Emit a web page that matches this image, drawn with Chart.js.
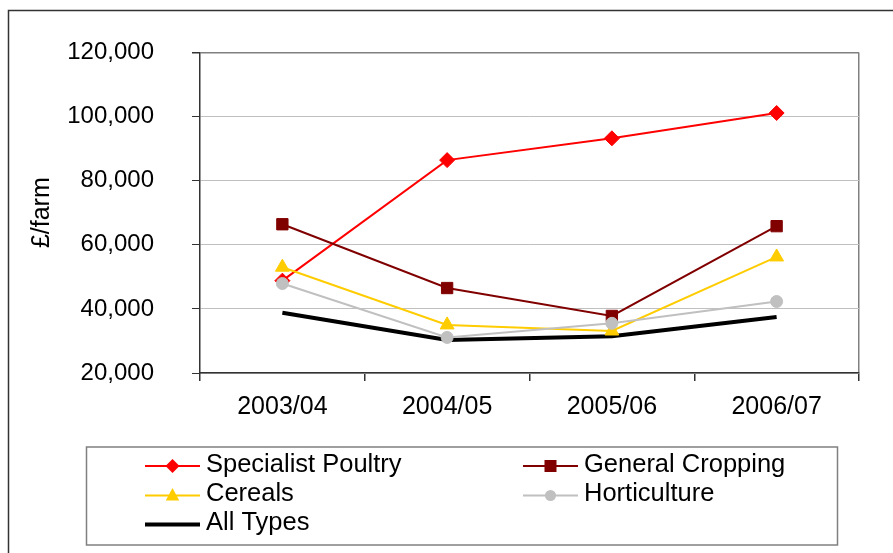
<!DOCTYPE html>
<html>
<head>
<meta charset="utf-8">
<script src="https://cdn.jsdelivr.net/npm/chart.js@4.4.1/dist/chart.umd.min.js"></script>
<style>
  html, body { margin: 0; padding: 0; background: #fff; }
  canvas { display: block; }
</style>
</head>
<body>
<canvas id="farmChart" width="893" height="553"></canvas>
<script>
const years = ["2003/04", "2004/05", "2005/06", "2006/07"];
const poultry = [48800, 86400, 93200, 101100];
const cropping = [66400, 46500, 37800, 65800];
const cereals = [53000, 35000, 33100, 56200];
const horticulture = [47900, 31100, 35500, 42300];
const allTypes = [38800, 30300, 31500, 37500];

const FONT = "'Liberation Sans', Arial, sans-serif";

// legend layout (two columns, drawn as in the original sheet)
const legendItems = [
  { label: "Specialist Poultry", col: 0, row: 0 },
  { label: "General Cropping", col: 1, row: 0 },
  { label: "Cereals", col: 0, row: 1 },
  { label: "Horticulture", col: 1, row: 1 },
  { label: "All Types", col: 0, row: 2 },
];

function drawMarker(ctx, style, x, y, r, color) {
  ctx.fillStyle = color;
  ctx.beginPath();
  if (style === "rectRot") {
    ctx.moveTo(x, y - r);
    ctx.lineTo(x + r, y);
    ctx.lineTo(x, y + r);
    ctx.lineTo(x - r, y);
  } else if (style === "rect") {
    ctx.rect(x - r, y - r, r * 2, r * 2);
  } else if (style === "triangle") {
    ctx.moveTo(x, y - r);
    ctx.lineTo(x + r * 0.9, y + r * 0.65);
    ctx.lineTo(x - r * 0.9, y + r * 0.65);
  } else if (style === "circle") {
    ctx.arc(x, y, r, 0, Math.PI * 2);
  } else {
    return;
  }
  ctx.closePath();
  ctx.fill();
}

const framePlugin = {
  id: "frame",
  beforeDraw(chart) {
    const ctx = chart.ctx;
    ctx.save();
    ctx.fillStyle = "#fff";
    ctx.fillRect(0, 0, chart.width, chart.height);
    ctx.strokeStyle = "#333";
    ctx.lineWidth = 1.5;
    ctx.strokeRect(8.5, 10.5, chart.width + 20, chart.height + 20);
    ctx.restore();
  },
  afterDraw(chart) {
    const ctx = chart.ctx;
    ctx.save();
    // legend box
    ctx.strokeStyle = "#808080";
    ctx.lineWidth = 1.5;
    ctx.strokeRect(86.5, 447, 751, 98);

    const colX = [145, 523];
    const rowY = [466, 495.5, 524.5];
    const markerSize = { rectRot: 7, rect: 6, triangle: 7.5, circle: 5.5 };
    legendItems.forEach((item) => {
      const ds = chart.data.datasets.find((d) => d.label === item.label);
      const x0 = colX[item.col];
      const y = rowY[item.row];
      ctx.strokeStyle = ds.borderColor;
      ctx.lineWidth = ds.borderWidth;
      ctx.beginPath();
      ctx.moveTo(x0, y);
      ctx.lineTo(x0 + 55, y);
      ctx.stroke();
      if (ds.pointRadius > 0) {
        drawMarker(ctx, ds.pointStyle, x0 + 27.5, y, markerSize[ds.pointStyle], ds.pointBackgroundColor);
      }
      ctx.fillStyle = "#000";
      ctx.font = "25.5px " + FONT;
      ctx.textAlign = "left";
      ctx.textBaseline = "middle";
      ctx.fillText(item.label, x0 + 61, y - 1.5);
    });
    ctx.restore();
  },
};

const ctx = document.getElementById("farmChart").getContext("2d");

new Chart(ctx, {
  type: "line",
  data: {
    labels: years,
    datasets: [
      {
        label: "Specialist Poultry",
        data: poultry,
        borderColor: "#ff0000",
        backgroundColor: "#ff0000",
        pointBackgroundColor: "#ff0000",
        pointBorderColor: "#ff0000",
        borderWidth: 2,
        pointStyle: "rectRot",
        pointRadius: 7.5,
        pointBorderWidth: 1,
        order: 4,
      },
      {
        label: "General Cropping",
        data: cropping,
        borderColor: "#800000",
        backgroundColor: "#800000",
        pointBackgroundColor: "#800000",
        pointBorderColor: "#800000",
        borderWidth: 2,
        pointStyle: "rect",
        pointRadius: 8,
        pointBorderWidth: 1,
        order: 3,
      },
      {
        label: "Cereals",
        data: cereals,
        borderColor: "#ffcc00",
        backgroundColor: "#ffcc00",
        pointBackgroundColor: "#ffcc00",
        pointBorderColor: "#ffcc00",
        borderWidth: 2,
        pointStyle: "triangle",
        pointRadius: 8,
        pointBorderWidth: 1,
        order: 2,
      },
      {
        label: "Horticulture",
        data: horticulture,
        borderColor: "#c0c0c0",
        backgroundColor: "#c0c0c0",
        pointBackgroundColor: "#c0c0c0",
        pointBorderColor: "#c0c0c0",
        borderWidth: 2,
        pointStyle: "circle",
        pointRadius: 6,
        pointBorderWidth: 1,
        order: 1,
      },
      {
        label: "All Types",
        data: allTypes,
        borderColor: "#000000",
        backgroundColor: "#000000",
        borderWidth: 4,
        pointRadius: 0,
        order: 5,
      },
    ],
  },
  options: {
    responsive: false,
    animation: false,
    devicePixelRatio: 1,
    layout: {
      padding: { left: 27, top: 52, right: 34, bottom: 120 },
    },
    plugins: {
      legend: { display: false },
      tooltip: { enabled: false },
    },
    elements: {
      line: { tension: 0 },
    },
    scales: {
      x: {
        offset: true,
        afterFit: (scale) => { scale.height = 60; },
        grid: {
          offset: true,
          drawOnChartArea: true,
          color: (c) => (c.type === "tick" ? "rgba(0,0,0,0)" : "#808080"),
          tickColor: "#333",
          tickLength: 8,
          lineWidth: 1.5,
        },
        border: { color: "#333", width: 1.5 },
        ticks: {
          color: "#000",
          padding: 11,
          font: { family: FONT, size: 25 },
        },
      },
      y: {
        min: 20000,
        max: 120000,
        afterFit: (scale) => { scale.width = 173; },
        title: {
          display: true,
          text: "£/farm",
          color: "#000",
          padding: 0,
          font: { family: FONT, size: 25 },
        },
        grid: {
          color: (c) => (c.tick && c.tick.value === 120000 ? "#808080" : "#c0c0c0"),
          tickColor: "#333",
          tickLength: 8,
          lineWidth: (c) => (c.tick && c.tick.value === 120000 ? 1.5 : 1),
        },
        border: { color: "#333", width: 1.5 },
        ticks: {
          stepSize: 20000,
          color: "#000",
          padding: 38,
          font: { family: FONT, size: 24 },
          callback: (v) => v.toLocaleString("en-US"),
        },
      },
    },
  },
  plugins: [framePlugin],
});
</script>
</body>
</html>
